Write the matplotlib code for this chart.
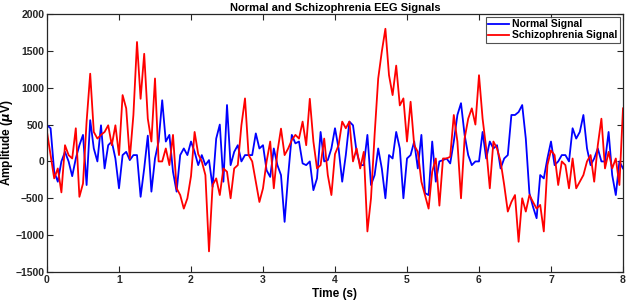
import numpy as np
import matplotlib
matplotlib.use("Agg")
import matplotlib.pyplot as plt
from matplotlib import font_manager

fs = 20.0
schizo = [
    400, 86, -230, -95, -420, 220, 86, 40, 450, -480, -300, 540, 1190, 400, 310, 360, 400, 490, 220, 490, 86,
    900, 720, 40, 630, 1620, 850, 1460, 580, 270, 1125, 0, 0, 176, -50, 360, -365, -456, -640, -500, -200,
    400, 100, 0, -185, -1220, -320, -230, -456, -95, -140, -500, -95, -50, 490, 855, 86, 0, -275, -550, -365,
    0, 270, -365, 130, 445, 86, 176, 290, 360, 310, 540, 220, 850, 270, -95, -50, 310, -185, -456, 100,
    220, 540, 450, 540, 0, 176, -95, 130, -950, -500, 360, 1125, 1490, 1800, 1170, 900, 1300, 760, 855, 270,
    810, 220, 130, -275, -456, -640, -140, 40, -600, 40, 40, 63, 630, 270, -500, 310, 580, 720, 500, 1170,
    580, 176, -365, 270, 176, 0, -320, -680, -550, -456, -1090, -500, -680, -456, -550, -640, -590, -950, -50, 150,
    86, -320, 0, -50, -365, 40, -365, -275, -185, 0, 86, -275, 220, 580, -95, 130, -95, 40, -320, 720,
]
normal = [
    490, 450, -140, -275, 0, 130, 0, -200, 40, 220, 360, -320, 560, 176, 0, 490, -95, 220, 270, 40, -365,
    86, 130, 18, 86, 86, -480, -95, 350, -410, 40, 270, 830, 270, 360, -140, -410, 86, 176, 86, 270,
    130, -50, 86, -50, 18, -345, 310, 500, -275, 765, -50, 130, 220, 0, 86, 86, 86, 380, 176, 220,
    -120, -210, 176, -50, -185, -820, -185, 360, 245, 270, -27, -50, 0, -390, -230, 400, 0, 18, 176, 450,
    176, -275, 86, 540, 490, 130, -50, -50, 360, -320, -185, 176, -95, -500, 86, 40, 400, 176, -500, 40,
    86, 270, -95, 360, -430, -456, 270, -275, 0, 18, 40, -27, 270, 630, 790, 360, 86, -50, 0, 0,
    400, 40, 270, 176, 220, -95, 40, 86, 630, 630, 670, 765, 310, -430, -615, -770, -185, -230, 40, 270,
    -50, 0, 86, 86, 0, 450, 310, 400, 630, 176, -50, 40, 176, 0, 0, 400, -185, -456, 0, -95,
]
xticks = [0, 1, 2, 3, 4, 5, 6, 7, 8]
yticks = [-1500, -1000, -500, 0, 500, 1000, 1500, 2000]
labels = ["Normal Signal", "Schizophrenia Signal"]

t = np.arange(len(normal)) / fs

# ---- fonts ----
avail = {f.name for f in font_manager.fontManager.ttflist}
fam = "Liberation Sans Narrow" if "Liberation Sans Narrow" in avail else "Liberation Sans"
plt.rcParams["font.family"] = [fam, "DejaVu Sans"]
plt.rcParams["font.weight"] = "bold"

fig = plt.figure(figsize=(6.3, 3.05), dpi=100)
ax = fig.add_axes([47 / 630, 33 / 305, 576 / 630, 258 / 305])

ax.plot(t, normal, color="#0000ff", lw=1.3, label=labels[0])
ax.plot(t, schizo, color="#ff0000", lw=1.3, label=labels[1])

ax.set_xlim(0, 8)
ax.set_ylim(-1500, 2000)
ax.set_xticks(xticks)
ax.set_yticks(yticks)
ax.tick_params(direction="in", length=4, width=0.8, top=True, right=True,
               labelsize=7.5, colors="#262626", pad=2)
for lab in ax.get_xticklabels() + ax.get_yticklabels():
    lab.set_fontweight("bold")
for s in ax.spines.values():
    s.set_color("#262626")
    s.set_linewidth(0.9)

ax.set_title("Normal and Schizophrenia EEG Signals", fontsize=8, fontweight="bold", pad=2)
ax.set_xlabel("Time (s)", fontsize=8.5, fontweight="bold", labelpad=2)
ax.set_ylabel(r"Amplitude ($\mu$V)", fontsize=8.5, fontweight="bold")
ax.yaxis.set_label_coords(-0.056, 0.5)

leg = ax.legend(loc="upper right", frameon=True, fancybox=False,
                handlelength=2.0, handletextpad=0.3, borderpad=0.25, labelspacing=0.1,
                borderaxespad=0.25, edgecolor="#262626", prop={"weight": "bold", "size": 7.5})
leg.get_frame().set_linewidth(0.8)

fig.savefig("out.png", dpi=100)
